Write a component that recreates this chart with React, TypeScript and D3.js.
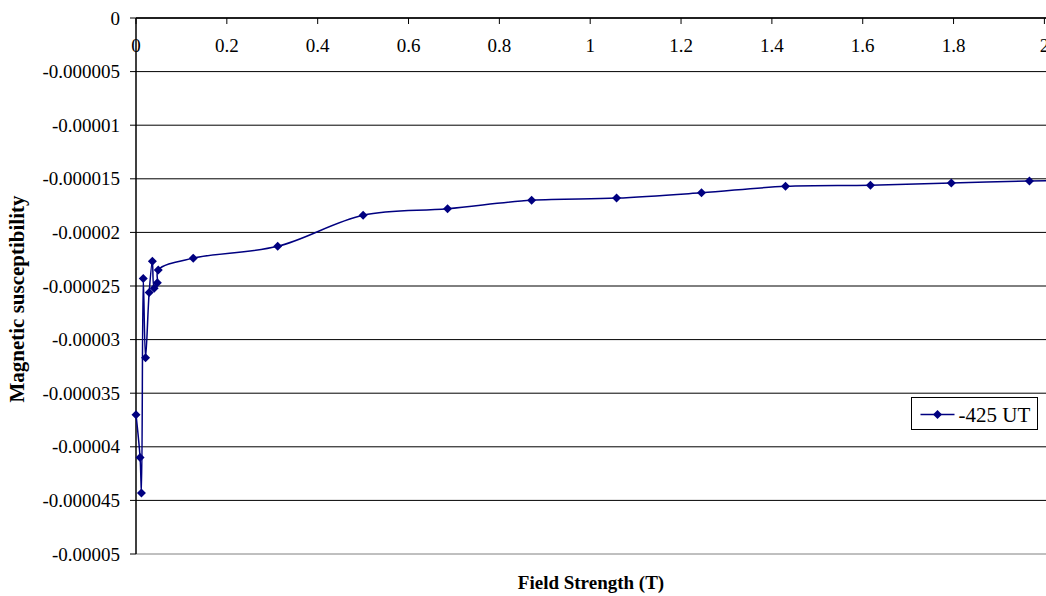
import React from "react";
import * as d3 from "d3";

const fieldStrength: number[] = [
  0, 0.009, 0.012, 0.016, 0.021, 0.029, 0.036, 0.04, 0.047, 0.049, 0.126, 0.312, 0.5,
  0.686, 0.871, 1.058, 1.245, 1.43, 1.617, 1.795, 1.967, 2.15,
];
const susceptibility: number[] = [
  -0.000037, -0.000041, -0.0000443, -0.0000243, -0.0000317, -0.0000256, -0.0000227,
  -0.0000252, -0.0000247, -0.0000235, -0.0000224, -0.0000213, -0.0000184, -0.0000178,
  -0.000017, -0.0000168, -0.0000163, -0.0000157, -0.0000156, -0.0000154, -0.0000152,
  -0.0000151,
];
const yTicks: number[] = [0, -0.000005, -0.00001, -0.000015, -0.00002, -0.000025, -0.00003, -0.000035, -0.00004, -0.000045, -0.00005];
const yTickLabels: string[] = ["0", "-0.000005", "-0.00001", "-0.000015", "-0.00002", "-0.000025", "-0.00003", "-0.000035", "-0.00004", "-0.000045", "-0.00005"];
const xTicks: number[] = [0, 0.2, 0.4, 0.6, 0.8, 1, 1.2, 1.4, 1.6, 1.8, 2];
const xTickLabels: string[] = ["0", "0.2", "0.4", "0.6", "0.8", "1", "1.2", "1.4", "1.6", "1.8", "2"];
const seriesName = "-425 UT";
const xTitle = "Field Strength (T)";
const yTitle = "Magnetic susceptibility";

const W = 1046;
const H = 596;
const FONT = "Liberation Serif, Times New Roman, Times, DejaVu Serif, serif";
const NAVY = "#000080";

export default function App() {
  const left = 136;
  const top = 18;
  const bottom = 554;
  const x = d3.scaleLinear().domain([0, 2.4]).range([left, left + 2.4 * 454.2]);
  const y = d3.scaleLinear().domain([0, -0.00005]).range([top, bottom]);
  const pts = fieldStrength.map((v, i) => [x(v), y(susceptibility[i])] as [number, number]);
  const line = d3.line().curve(d3.curveCatmullRom.alpha(0.5))(pts) || "";
  const diamond = (cx: number, cy: number, r: number) =>
    `M${cx},${cy - r}L${cx + r},${cy}L${cx},${cy + r}L${cx - r},${cy}Z`;
  const plotRight = x(2.4);
  const ts = { fontFamily: FONT };

  const legX = 911.5;
  const legY = 397.5;
  return (
    <svg
      width={W}
      height={H}
      style={{ position: "absolute", left: 0, top: 0, background: "#fff", fontFamily: FONT }}
    >
      <rect x={0} y={0} width={W} height={H} fill="#fff" />
      {yTicks.map((t, i) => (
        <g key={i}>
          <line x1={left} x2={plotRight} y1={y(t)} y2={y(t)} stroke={i === yTicks.length - 1 ? "#808080" : "#000"} strokeWidth={1} />
          <line x1={left - 6} x2={left} y1={y(t)} y2={y(t)} stroke="#000" strokeWidth={1} />
          <text x={120} y={y(t)} dy="0.35em" textAnchor="end" fontSize={19} fill="#000" style={ts}>
            {yTickLabels[i]}
          </text>
        </g>
      ))}
      <line x1={left} x2={left} y1={top} y2={bottom} stroke="#000" strokeWidth={1.5} />
      <line x1={left} x2={plotRight} y1={top} y2={top} stroke="#000" strokeWidth={1.5} />
      {xTicks.map((t, i) => (
        <g key={i}>
          <line x1={x(t)} x2={x(t)} y1={top} y2={top + 6} stroke="#000" strokeWidth={1} />
          <text x={x(t)} y={52} textAnchor="middle" fontSize={19} fill="#000" style={ts}>
            {xTickLabels[i]}
          </text>
        </g>
      ))}
      <path d={line} fill="none" stroke={NAVY} strokeWidth={1.5} />
      {pts.map((p, i) => (
        <path key={i} d={diamond(p[0], p[1], 4.5)} fill={NAVY} />
      ))}
      <text x={591} y={589} textAnchor="middle" fontSize={19} fontWeight="bold" fill="#000" style={ts}>
        {xTitle}
      </text>
      <text
        transform={`translate(24,${299}) rotate(-90)`}
        textAnchor="middle"
        fontSize={21}
        fontWeight="bold"
        fill="#000"
        style={ts}
      >
        {yTitle}
      </text>
      <rect x={legX} y={legY} width={126} height={32} fill="#fff" stroke="#000" strokeWidth={1} />
      <line x1={legX + 9} x2={legX + 43} y1={legY + 17} y2={legY + 17} stroke={NAVY} strokeWidth={1.5} />
      <path d={diamond(legX + 26, legY + 17, 4.5)} fill={NAVY} />
      <text x={legX + 47} y={legY + 17} dy="0.35em" fontSize={21} fill="#000" style={ts}>
        {seriesName}
      </text>
    </svg>
  );
}
